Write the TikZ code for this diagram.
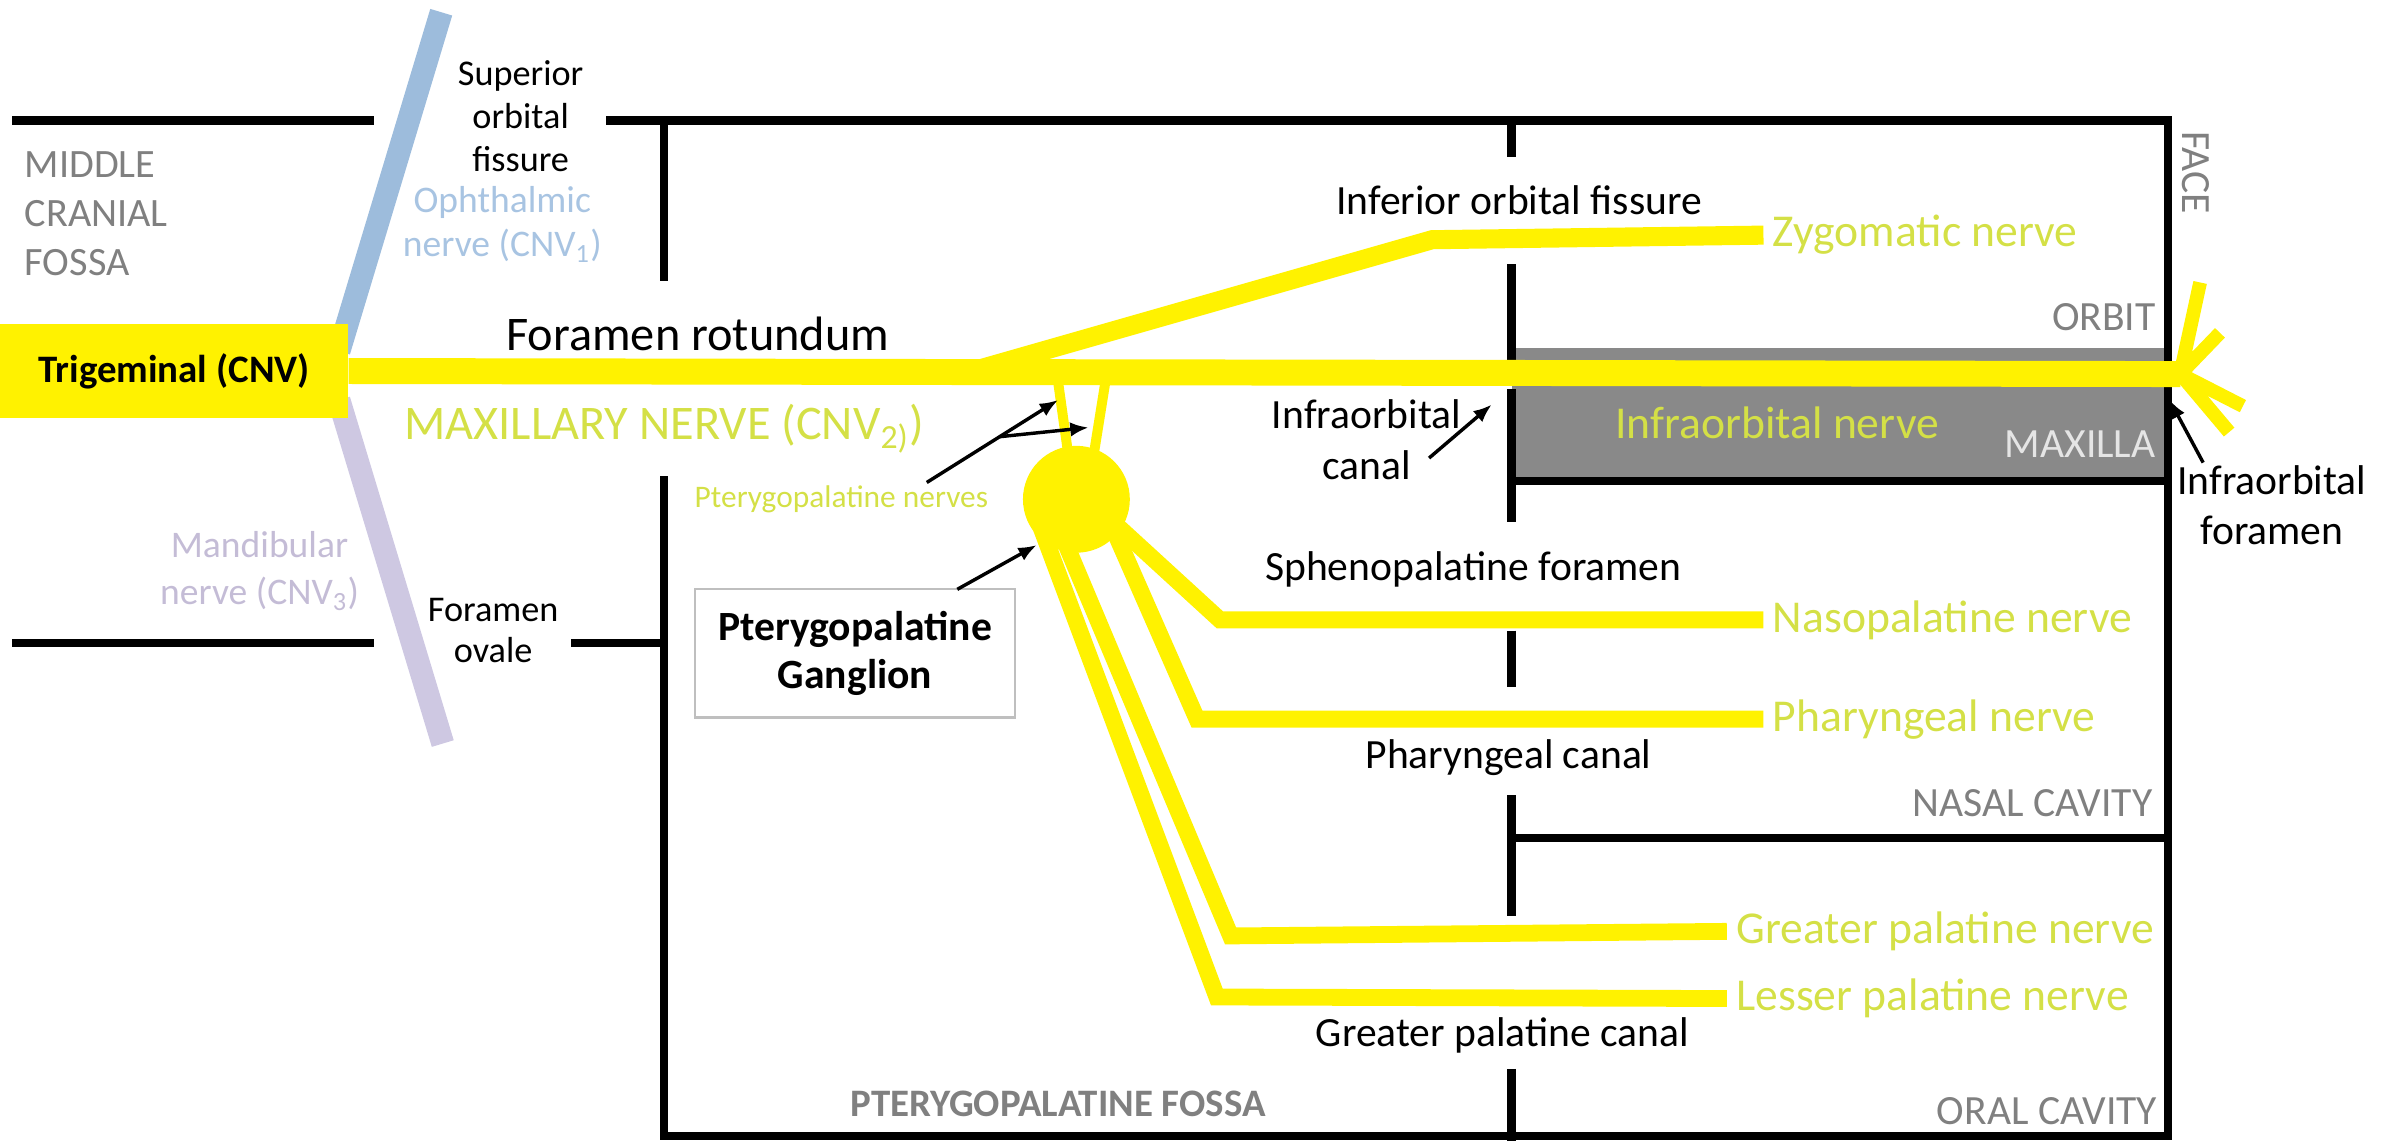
\documentclass[tikz,border=0pt]{standalone}
\usepackage{fontspec}
\setmainfont{Carlito}
\usepackage{tikz}
\usetikzlibrary{arrows.meta,positioning,calc}
\definecolor{nerveyellow}{RGB}{255,242,0}
\definecolor{nervetext}{RGB}{212,224,70}
\definecolor{ophblue}{RGB}{157,188,220}
\definecolor{ophtext}{RGB}{168,196,226}
\definecolor{mandlilac}{RGB}{206,200,226}
\definecolor{mandtext}{RGB}{196,188,214}
\definecolor{regiongray}{RGB}{128,128,128}
\definecolor{bonegray}{RGB}{137,137,137}

\begin{document}
\begin{tikzpicture}[x=0.2mm,y=-0.2mm,
  wall/.style={line width=1.1mm,black},
  nerve/.style={line width=3.4mm,nerveyellow},
  ramus/.style={line width=2.2mm,nerveyellow},
  twig/.style={line width=1.3mm,nerveyellow},
  division/.style={line width=3mm},
  tag/.style={align=center,font=\fontsize{15.5}{18.7}\selectfont},
  minor/.style={align=center,font=\fontsize{13.5}{15.9}\selectfont},
  region/.style={text=regiongray,font=\fontsize{15.5}{18}\selectfont},
  nname/.style={text=nervetext,anchor=west,font=\fontsize{17}{20}\selectfont},
  pointer/.style={-{Latex[length=2.4mm,width=1.9mm]},line width=0.45mm}]
\useasboundingbox (0,0) rectangle (1568,747);
\fill[bonegray] (990,228) rectangle (1420,313);
\draw[wall] (8,79) -- (245,79);
\draw[wall] (8,421) -- (245,421);
\draw[wall] (374,421) -- (435,421);
\draw[wall] (397,79) -- (1420,79) -- (1420,744) -- (435,744) -- (435,312);
\draw[wall] (435,79) -- (435,184);
\draw[wall] (990,315) -- (1420,315);
\draw[wall] (990,549) -- (1420,549);
\draw[wall] (990,79) -- (990,103) (990,173) -- (990,236) (990,255) -- (990,342)
  (990,413) -- (990,450) (990,521) -- (990,600) (990,700) -- (990,747);
\draw[division,ophblue] (289,8) -- (222,230);
\draw[division,mandlilac] (222,262) -- (290,487);
\node[fill=nerveyellow,minimum width=45.6mm,minimum height=12.2mm,font=\bfseries\fontsize{14.5}{16}\selectfont] (trigem) at (114,243) {Trigeminal (CNV)};
\coordinate (ramusend) at (1428,245);
\coordinate (zygobend) at (938,157);
\node[nname] (zygo) at (1155,154) {Zygomatic nerve};
\node[nname] (nasopal) at (1155,406) {Nasopalatine nerve};
\node[nname] (pharyn) at (1155,471) {Pharyngeal nerve};
\node[nname] (grpal) at (1131,610) {Greater palatine nerve};
\node[nname] (lspal) at (1131,654) {Lesser palatine nerve};
\node[circle,fill=nerveyellow,minimum size=14mm,inner sep=0] (ganglion) at (705,327) {};
\draw[ramus,line width=2.5mm] (630,245) -- (zygobend) -- (zygo.west);
\draw[ramus] (716,330) -- (799,406) -- (nasopal.west);
\draw[ramus] (722,330) -- (784,471) -- (pharyn.west);
\draw[ramus] (687,330) -- (806,613) -- (grpal.west);
\draw[ramus] (676,330) -- (797,653) -- (lspal.west);
\draw[twig] (693,250) -- (700,300);
\draw[twig] (724,250) -- (716,300);
\draw[nerve] (trigem.east) -- (ramusend);
\draw[line width=1.8mm,nerveyellow] (ramusend) -- (1441,185) (ramusend) -- (1454,218)
  (ramusend) -- (1469,266) (ramusend) -- (1460,283);
\node[region,align=left,anchor=west,font=\fontsize{15}{18.1}\selectfont] (mcf) at (10,140) {MIDDLE\\CRANIAL\\FOSSA};
\node[minor] (supfiss) at (341,76) {Superior\\orbital\\fissure};
\node[minor,text=ophtext,font=\fontsize{14}{16.7}\selectfont] (ophlbl) at (329,147) {Ophthalmic\\nerve (CNV\textsubscript{1})};
\node[minor,text=mandtext,font=\fontsize{14}{17.6}\selectfont] (mandlbl) at (170,374) {Mandibular\\nerve (CNV\textsubscript{3})};
\node[minor,font=\fontsize{13.5}{15.2}\selectfont] (ovale) at (323,413) {Foramen\\ovale};
\node[font=\fontsize{18}{21}\selectfont] (rotundum) at (457,219) {Foramen rotundum};
\node[text=nervetext,font=\fontsize{18}{21}\selectfont] (maxlbl) at (435,281) {MAXILLARY NERVE (CNV\textsubscript{2)})};
\node[text=nervetext,font=\fontsize{11.7}{14}\selectfont] (ptnlbl) at (551,327) {Pterygopalatine nerves};
\node[draw=black!25,line width=0.3mm,minimum width=42mm,minimum height=16.8mm,align=center,font=\bfseries\fontsize{15.5}{18.1}\selectfont] (gangbox) at (560,428) {Pterygopalatine\\Ganglion};
\node[tag] (infiss) at (995,131) {Inferior orbital fissure};
\node[tag] (iocanal) at (895,288) {Infraorbital\\canal};
\node[tag] (sphfor) at (965,373) {Sphenopalatine foramen};
\node[tag] (phcanal) at (988,496) {Pharyngeal canal};
\node[tag] (gpcanal) at (984,678) {Greater palatine canal};
\node[tag] (ioforamen) at (1488,331) {Infraorbital\\foramen};
\node[text=nervetext,font=\fontsize{17}{20}\selectfont] (ionerve) at (1164,277) {Infraorbital nerve};
\node[region,anchor=east] (orbit) at (1418,208) {ORBIT};
\node[region,anchor=east,text=black!10] (maxilla) at (1418,291) {MAXILLA};
\node[region,anchor=east] (nasal) at (1416,526) {NASAL CAVITY};
\node[region,anchor=east] (oral) at (1419,728) {ORAL CAVITY};
\node[region,rotate=-90] (face) at (1438,113) {FACE};
\node[region,font=\bfseries\fontsize{14.5}{17}\selectfont] (ptfossa) at (693,723) {PTERYGOPALATINE FOSSA};
\coordinate (ioctail) at (936,300);
\coordinate (ioctip) at (977,265);
\coordinate (ioftail) at (1443,303);
\coordinate (ioftip) at (1421,262);
\coordinate (gbtail) at (627,386);
\coordinate (gbtip) at (679,357);
\coordinate (pntail) at (607,316);
\coordinate (pnfork) at (655,286);
\coordinate (pntip) at (693,262);
\coordinate (pntiptwo) at (713,280);
\draw[pointer] (ioctail) -- (ioctip);
\draw[pointer] (ioftail) -- (ioftip);
\draw[pointer] (gbtail) -- (gbtip);
\draw[pointer] (pntail) -- (pntip);
\draw[pointer] (pnfork) -- (pntiptwo);
\end{tikzpicture}
\end{document}
